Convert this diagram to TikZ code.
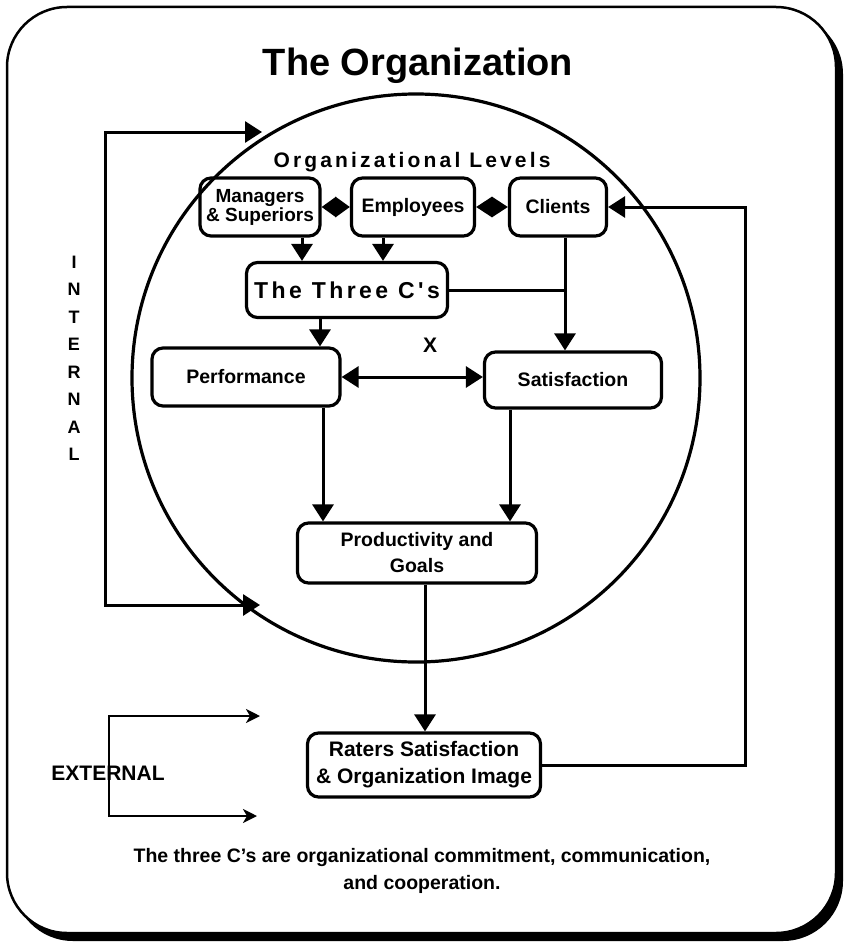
\documentclass[tikz,border=0pt]{standalone}
\usepackage{fontspec}
\setmainfont{Liberation Sans}
\newfontfamily\levelsfont[LetterSpace=15]{Liberation Sans}
\usetikzlibrary{arrows.meta,calc}

\begin{document}
\begin{tikzpicture}[x=1pt,y=-1pt,
			>={Triangle[length=17pt,width=21pt]},
			box/.style={rectangle, draw, rounded corners=11pt, line width=3.2pt, inner sep=2pt, align=center, minimum height=58pt, font=\fontsize{19.5}{26}\selectfont\bfseries},
			conn/.style={line width=3pt},
			diam/.style={line width=3pt, {Triangle[length=#1,width=20pt]}-{Triangle[length=#1,width=20pt]}},
			extconn/.style={line width=2.8pt, {Stealth[length=14pt,width=14pt,inset=4pt]}-{Stealth[length=14pt,width=14pt,inset=4pt]}},
			lab/.style={font=\fontsize{19}{19}\selectfont\bfseries, inner sep=0pt}
				]
			\useasboundingbox (0,0) rectangle (843,942);
			\def\rad{284}
			% frame with shadow
			\fill[rounded corners=60pt] (13,14) rectangle (843,941);
			\draw[fill=white, line width=2.5pt, rounded corners=60pt] (7,7) rectangle (836,933);

			\node[font=\fontsize{38}{38}\selectfont\bfseries] (title) at (418,66) {The Organization};
			\draw[line width=3.2pt] (416,378) coordinate (org) circle [radius=\rad pt];

			\node[font=\levelsfont\fontsize{21}{21}\selectfont\bfseries] (levels) at (412,162) {Organizational Levels};

			\node[box, minimum width=120pt, font=\fontsize{19}{21}\selectfont\bfseries] (mgr) at (260,207) {Managers\\[-2pt]\& Superiors};
			\node[box, minimum width=123pt] (emp) at (413,207) {Employees};
			\node[box, minimum width=97pt] (cli) at (558,207) {Clients};
			\node[box, minimum width=201pt, minimum height=55pt, font=\levelsfont\fontsize{23}{23}\selectfont\bfseries] (c3) at (347,290) {The Three C's};
			\node[box, minimum width=188pt] (perf) at (246,377) {Performance};
			\node[box, minimum width=177pt, minimum height=56pt] (sat) at (573,380) {Satisfaction};
			\node[box, minimum width=239pt, minimum height=60pt] (prod) at (417,553) {Productivity and\\Goals};
			\node[box, minimum width=233pt, minimum height=64pt, font=\fontsize{21}{27}\selectfont\bfseries] (rat) at (424,765) {Raters Satisfaction\\\& Organization Image};
			\node[lab, font=\fontsize{21}{21}\selectfont\bfseries] (x) at (430,345) {X};

			% levels
			\draw[diam=14.5pt] (mgr.east) -- (emp.west);
			\draw[diam=16pt] (emp.east) -- (cli.west);
			\draw[conn,->] ([xshift=42]mgr.south) -- ([xshift=42]mgr.south |- c3.north);
			\draw[conn,->] ([xshift=-30]emp.south) -- ([xshift=-30]emp.south |- c3.north);
			\coordinate (cliline) at ([xshift=7]cli.south);
			\draw[conn,->] (cliline) -- (cliline |- sat.north);
			\draw[conn] (c3.east) -- (c3.east -| cliline);
			\draw[conn,->] ([xshift=-27]c3.south) -- ([xshift=-27]c3.south |- perf.north);
			\draw[conn,<->] (perf.east) -- (perf.east -| sat.west);
			% down to goals and image
			\draw[conn,->] ([xshift=77]perf.south) -- ([xshift=77]perf.south |- prod.north);
			\draw[conn,->] ([xshift=-63]sat.south) -- ([xshift=-63]sat.south |- prod.north);
			\draw[conn,->] ([xshift=8]prod.south) -- ([xshift=8]prod.south |- rat.north);
			\draw[conn,->] (rat.east) -- ++(203,0) |- (cli.east);

			% internal
			\coordinate (intipa) at (262,132);
			\coordinate (intop) at (105,132);
			\coordinate (inbot) at (105,605);
			\coordinate (intipb) at (260,605);
			\draw[conn,<->] (intipa) -- (intop) -- (inbot) -- (intipb);
			\foreach \l [count=\i from 0] in {I,N,T,E,R,N,A,L}
				\node[lab, font=\fontsize{18}{18}\selectfont\bfseries] (int\i) at (74,262+27.5*\i) {\l};

			% external
			\coordinate (extipa) at (260,716);
			\coordinate (extop) at (109,716);
			\coordinate (exbot) at (109,816);
			\coordinate (extipb) at (257,816);
			\draw[extconn] (extipa) -- (extop) -- (exbot) -- (extipb);
			\node[lab, font=\fontsize{21}{21}\selectfont\bfseries] (ext) at (108,773) {EXTERNAL};

			\node[font=\fontsize{19.5}{27}\selectfont\bfseries, align=center] (note) at (422,871) {The three C's are organizational commitment, communication,\\and cooperation.};
	\end{tikzpicture}
\end{document}
